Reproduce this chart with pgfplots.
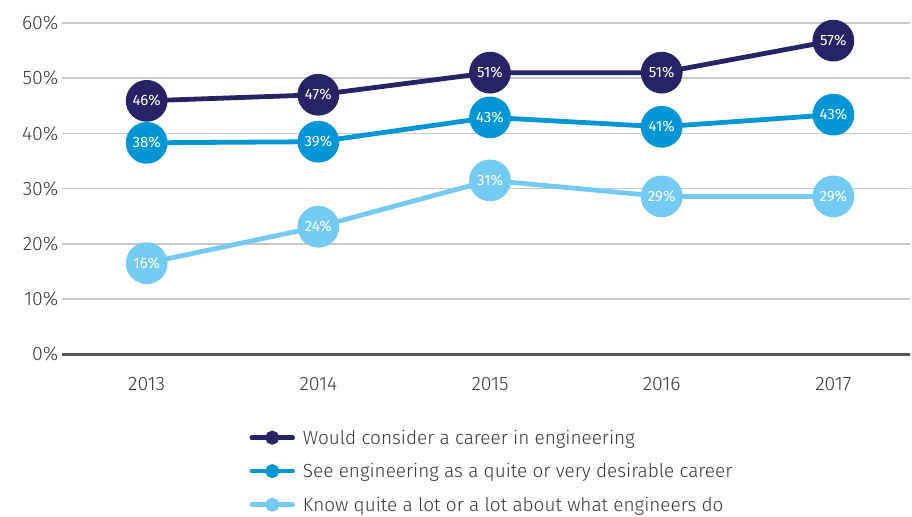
\documentclass[border=0pt]{standalone}
\usepackage{pgfplots}
\pgfplotsset{compat=1.18}
\usepackage{fontspec}
\setmainfont{Fira Sans}[UprightFont=* Light]
\newfontfamily\regfont{Fira Sans}
\definecolor{cnavy}{RGB}{38,36,100}
\definecolor{cmid}{RGB}{0,150,214}
\definecolor{clight}{RGB}{115,203,243}
\definecolor{ctext}{RGB}{55,55,55}
\definecolor{cgrid}{RGB}{200,200,200}
\definecolor{cbase}{RGB}{85,85,85}
\begin{document}
\begin{tikzpicture}
\begin{axis}[
  at={(0,0)}, anchor=south west,
  scale only axis,
  width=850pt, height=332pt,
  xmin=-0.494, xmax=4.448,
  ymin=0, ymax=60,
  axis line style={draw=none},
  xtick={0,1,2,3,4},
  xticklabels={2013,2014,2015,2016,2017},
  ytick={0,10,20,30,40,50,60},
  yticklabels={0\%,10\%,20\%,30\%,40\%,50\%,60\%},
  tick style={draw=none},
  ymajorgrids,
  grid style={cgrid, line width=1.5pt},
  ticklabel style={font=\fontsize{19.5}{22}\selectfont, text=ctext},
  yticklabel style={xshift=0pt},
  xticklabel style={yshift=-20pt},
  clip=false,
  legend cell align=left,
  legend style={draw=none, fill=none, at={(0.221,-0.215)}, anchor=north west,
    font=\fontsize{19}{22}\selectfont, text=ctext,
    row sep=13.8pt, inner xsep=0pt,
    nodes={inner xsep=8pt}},
  legend image code/.code={
    \draw[line width=4.5pt, line cap=round] (0pt,0pt) -- (41pt,0pt);
    \fill (20.5pt,0pt) circle (4.5pt);
  },
  every node near coord/.append style={font=\regfont\fontsize{15}{18}\selectfont, text=white, anchor=center},
  nodes near coords,
  point meta=explicit symbolic,
]
\draw[cbase, line width=3.5pt] (axis cs:-0.494,0) -- (axis cs:4.448,0);
\addplot[cnavy, line width=4.8pt, mark=*, mark size=18.5pt] coordinates {
 (0,45.9) [46\%] (1,47.0) [47\%] (2,51.0) [51\%] (3,51.0) [51\%] (4,56.8) [57\%]};
\addlegendentry{Would consider a career in engineering}
\addplot[cmid, line width=4.8pt, mark=*, mark size=18.5pt] coordinates {
 (0,38.3) [38\%] (1,38.5) [39\%] (2,42.9) [43\%] (3,41.2) [41\%] (4,43.4) [43\%]};
\addlegendentry{See engineering as a quite or very desirable career}
\addplot[clight, line width=4.8pt, mark=*, mark size=18.5pt] coordinates {
 (0,16.5) [16\%] (1,23.1) [24\%] (2,31.5) [31\%] (3,28.6) [29\%] (4,28.6) [29\%]};
\addlegendentry{Know quite a lot or a lot about what engineers do}
\end{axis}
\path (-62pt,-160pt) rectangle (850pt,355pt);
\end{tikzpicture}
\end{document}
